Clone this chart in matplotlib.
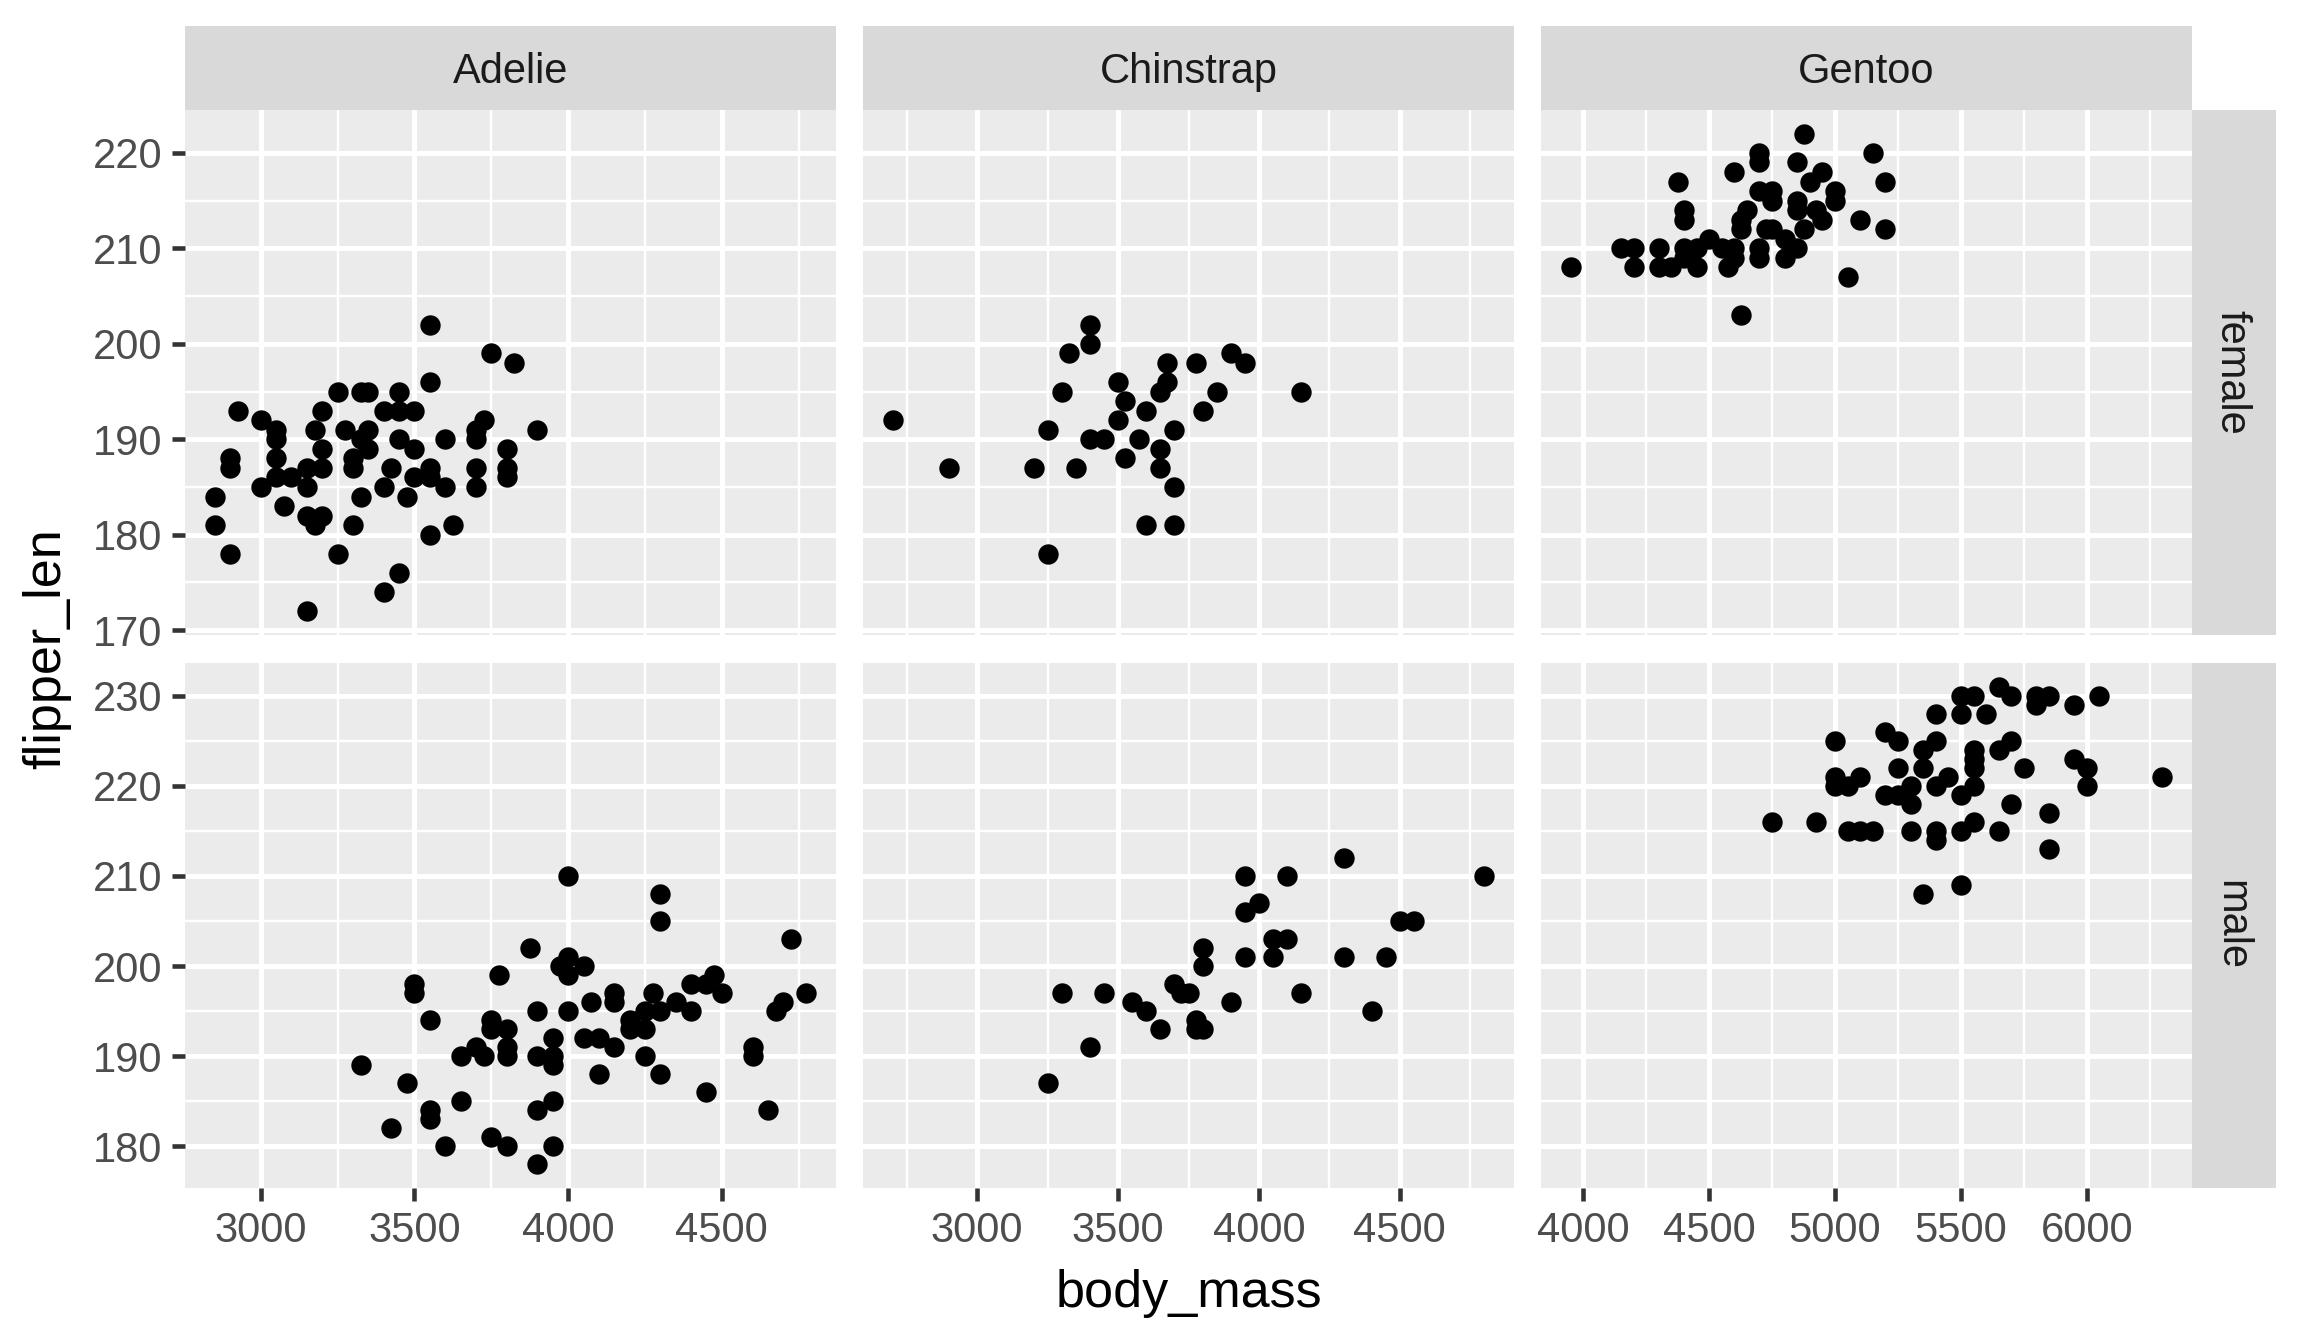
import matplotlib
matplotlib.use('Agg')
import matplotlib.pyplot as plt

plt.rcParams['font.family'] = ['Liberation Sans', 'DejaVu Sans']

species = ['Adelie', 'Chinstrap', 'Gentoo']
sexes = ['female', 'male']

adelie_female_mass = [3550, 3750, 3825, 3550, 3250, 3325, 3350, 3450, 2925, 3200, 3400, 3450, 3500,
                      3000, 3050, 3050, 3175, 3275, 3350, 3325, 3350, 3450, 3500, 3600, 3725, 3700,
                      3700, 3900, 3800, 3800, 3800, 3700, 3700, 2900, 2900, 3050, 3050, 3000, 3100,
                      3150, 3150, 3200, 3200, 3300, 3300, 3425, 3400, 3500, 3550, 3550, 3600, 2850,
                      2850, 3075, 3150, 3200, 3175, 3300, 3325, 3475, 3550, 3625, 2900, 3250, 3450,
                      3400, 3150]
adelie_female_flipper = [202, 199, 198, 196, 195, 195, 195, 195, 193, 193, 193, 193, 193,
                         192, 191, 190, 191, 191, 191, 190, 189, 190, 189, 190, 192, 191,
                         190, 191, 189, 187, 186, 187, 185, 188, 187, 188, 186, 185, 186,
                         187, 185, 189, 187, 188, 187, 187, 185, 186, 187, 186, 185, 184,
                         181, 183, 182, 182, 181, 181, 184, 184, 180, 181, 178, 178, 176,
                         174, 172]

adelie_male_mass = [4000, 4300, 4300, 4725, 3875, 4000, 3975, 4050, 4000, 3775, 3500, 3500, 4475,
                    4450, 4400, 4500, 4775, 4700, 4675, 4150, 4150, 4075, 4275, 4350, 4400, 4300,
                    4250, 4200, 4200, 4250, 4000, 3900, 3550, 3750, 3750, 3800, 3800, 3800, 3700,
                    3650, 3725, 3900, 3950, 3950, 3950, 4050, 4100, 4150, 4250, 4300, 4100, 4600,
                    4600, 4450, 4650, 3325, 3475, 3550, 3550, 3650, 3425, 3600, 3750, 3800, 3900,
                    3950, 3950, 3900]
adelie_male_flipper = [210, 208, 205, 203, 202, 201, 200, 200, 199, 199, 198, 197, 199,
                       198, 198, 197, 197, 196, 195, 197, 196, 196, 197, 196, 195, 195,
                       195, 194, 193, 193, 195, 195, 194, 194, 193, 193, 191, 190, 191,
                       190, 190, 190, 192, 190, 189, 192, 192, 191, 190, 188, 188, 191,
                       190, 186, 184, 189, 187, 184, 183, 185, 182, 180, 181, 180, 184,
                       185, 180, 178]

chinstrap_female_mass = [3400, 3400, 3325, 3675, 3775, 3900, 3950, 3500, 3675, 3650, 3300, 3850,
                         4150, 3525, 3600, 3800, 3500, 2700, 3250, 3700, 3400, 3450, 3575, 3650,
                         3525, 3650, 2900, 3200, 3350, 3700, 3600, 3700, 3250]
chinstrap_female_flipper = [202, 200, 199, 198, 198, 199, 198, 196, 196, 195, 195, 195,
                            195, 194, 193, 193, 192, 192, 191, 191, 190, 190, 190, 189,
                            188, 187, 187, 187, 187, 185, 181, 181, 178]

chinstrap_male_mass = [4300, 3950, 4100, 4800, 4000, 3950, 4500, 4550, 4050, 4100, 3800, 3800,
                       3950, 4050, 4300, 4450, 3700, 3725, 3750, 3300, 3450, 4150, 3900, 3550,
                       3600, 4400, 3650, 3775, 3775, 3800, 3400, 3250]
chinstrap_male_flipper = [212, 210, 210, 210, 207, 206, 205, 205, 203, 203, 202, 200,
                          201, 201, 201, 201, 198, 197, 197, 197, 197, 197, 196, 196,
                          195, 195, 193, 194, 193, 193, 191, 187]

gentoo_female_mass = [4875, 4700, 4700, 5150, 4850, 4600, 4950, 4375, 5200, 4900, 4700, 4750,
                      5000, 4750, 4850, 5000, 4650, 4850, 4925, 4400, 4400, 4950, 5100, 4625,
                      4625, 4725, 4875, 5200, 4750, 4500, 4800, 4150, 4200, 4300, 4400, 4450,
                      4550, 4600, 4700, 4850, 4700, 4800, 4600, 3950, 4200, 4300, 4350, 4450,
                      4575, 4400, 5050, 4625]
gentoo_female_flipper = [222, 220, 219, 220, 219, 218, 218, 217, 217, 217, 216, 216,
                         216, 215, 215, 215, 214, 214, 214, 214, 213, 213, 213, 213,
                         212, 212, 212, 212, 212, 211, 211, 210, 210, 210, 210, 210,
                         210, 210, 210, 210, 209, 209, 209, 208, 208, 208, 208, 208,
                         208, 209, 207, 203]

gentoo_male_mass = [5650, 5500, 5550, 5700, 5800, 5850, 6050, 5800, 5950, 5400, 5500, 5600,
                    5200, 5250, 5000, 5400, 5700, 5350, 5550, 5650, 5950, 5550, 5250, 5350,
                    5750, 6000, 5550, 5000, 5100, 5450, 6300, 5000, 5050, 5300, 5400, 5550,
                    6000, 5200, 5250, 5500, 5300, 5700, 5850, 4750, 4925, 5550, 5050, 5100,
                    5150, 5300, 5400, 5500, 5650, 5400, 5850, 5500, 5350]
gentoo_male_flipper = [231, 230, 230, 230, 230, 230, 230, 229, 229, 228, 228, 228,
                       226, 225, 225, 225, 225, 224, 224, 224, 223, 223, 222, 222,
                       222, 222, 222, 221, 221, 221, 221, 220, 220, 220, 220, 220,
                       220, 219, 219, 219, 218, 218, 217, 216, 216, 216, 215, 215,
                       215, 215, 215, 215, 215, 214, 213, 209, 208]

x_breaks = {'Adelie': [3000, 3500, 4000, 4500],
            'Chinstrap': [3000, 3500, 4000, 4500],
            'Gentoo': [4000, 4500, 5000, 5500, 6000]}
y_breaks = {'female': [170, 180, 190, 200, 210, 220],
            'male': [180, 190, 200, 210, 220, 230]}

data = {
    ('Adelie', 'female'): (adelie_female_mass, adelie_female_flipper),
    ('Adelie', 'male'): (adelie_male_mass, adelie_male_flipper),
    ('Chinstrap', 'female'): (chinstrap_female_mass, chinstrap_female_flipper),
    ('Chinstrap', 'male'): (chinstrap_male_mass, chinstrap_male_flipper),
    ('Gentoo', 'female'): (gentoo_female_mass, gentoo_female_flipper),
    ('Gentoo', 'male'): (gentoo_male_mass, gentoo_male_flipper),
}

W, H = 2304, 1344
fig = plt.figure(figsize=(W / 100, H / 100), dpi=100)
fig.patch.set_facecolor('white')

col_x = [185, 863, 1541]
pw = 651
row_y = [110, 663]
ph = 525
strip = 84

PANEL = '#EBEBEB'
STRIP = '#D9D9D9'
TICK_TXT = '#4D4D4D'
TICK_COL = '#333333'


def frac_rect(x0, y0, w, h):
    return [x0 / W, 1 - (y0 + h) / H, w / W, h / H]


def expand(vals):
    lo, hi = min(vals), max(vals)
    d = (hi - lo) * 0.05
    return lo - d, hi + d


xlims = {}
for sp in species:
    allx = data[(sp, 'female')][0] + data[(sp, 'male')][0]
    xlims[sp] = expand(allx)
ylims = {}
for sx in sexes:
    ally = data[('Adelie', sx)][1] + data[('Chinstrap', sx)][1] + data[('Gentoo', sx)][1]
    ylims[sx] = expand(ally)


def minors(breaks, lim):
    step = breaks[1] - breaks[0]
    cands = [breaks[0] - step / 2] + [b + step / 2 for b in breaks]
    return [c for c in cands if lim[0] <= c <= lim[1]]


for j, sx in enumerate(sexes):
    for i, sp in enumerate(species):
        ax = fig.add_axes(frac_rect(col_x[i], row_y[j], pw, ph))
        ax.set_facecolor(PANEL)
        for s in ax.spines.values():
            s.set_visible(False)
        ax.set_xlim(*xlims[sp])
        ax.set_ylim(*ylims[sx])
        ax.set_xticks(x_breaks[sp])
        ax.set_yticks(y_breaks[sx])
        ax.set_xticks(minors(x_breaks[sp], xlims[sp]), minor=True)
        ax.set_yticks(minors(y_breaks[sx], ylims[sx]), minor=True)
        ax.grid(which='major', color='white', linewidth=3.6)
        ax.grid(which='minor', color='white', linewidth=1.75)
        ax.set_axisbelow(True)
        ax.tick_params(which='minor', length=0)
        ax.tick_params(which='major', length=9.4, width=3.3, color=TICK_COL,
                       labelsize=30, labelcolor=TICK_TXT, pad=7)
        if i != 0:
            ax.tick_params(axis='y', which='major', length=0, labelleft=False)
        if j != len(sexes) - 1:
            ax.tick_params(axis='x', which='major', length=0, labelbottom=False)
        mx, fl = data[(sp, sx)]
        ax.scatter(mx, fl, s=215, c='black', linewidths=0, zorder=3)

        if j == 0:
            sa = fig.add_axes(frac_rect(col_x[i], row_y[0] - strip, pw, strip))
            sa.set_facecolor(STRIP)
            sa.set_xticks([]); sa.set_yticks([])
            for s in sa.spines.values():
                s.set_visible(False)
            sa.text(0.5, 0.45, sp, ha='center', va='center', fontsize=30,
                    color='#1A1A1A', transform=sa.transAxes)
        if i == len(species) - 1:
            sa = fig.add_axes(frac_rect(col_x[i] + pw, row_y[j], strip, ph))
            sa.set_facecolor(STRIP)
            sa.set_xticks([]); sa.set_yticks([])
            for s in sa.spines.values():
                s.set_visible(False)
            sa.text(0.47, 0.5, sx, ha='center', va='center', fontsize=30,
                    rotation=-90, color='#1A1A1A', transform=sa.transAxes)

fig.text(1189 / W, 1 - 1294 / H, 'body_mass', ha='center', va='center', fontsize=37.5,
         color='black')
fig.text(47 / W, 1 - 649 / H, 'flipper_len', ha='center', va='center', fontsize=37.5,
         rotation=90, color='black')

fig.savefig('out.png', dpi=100, facecolor='white')
